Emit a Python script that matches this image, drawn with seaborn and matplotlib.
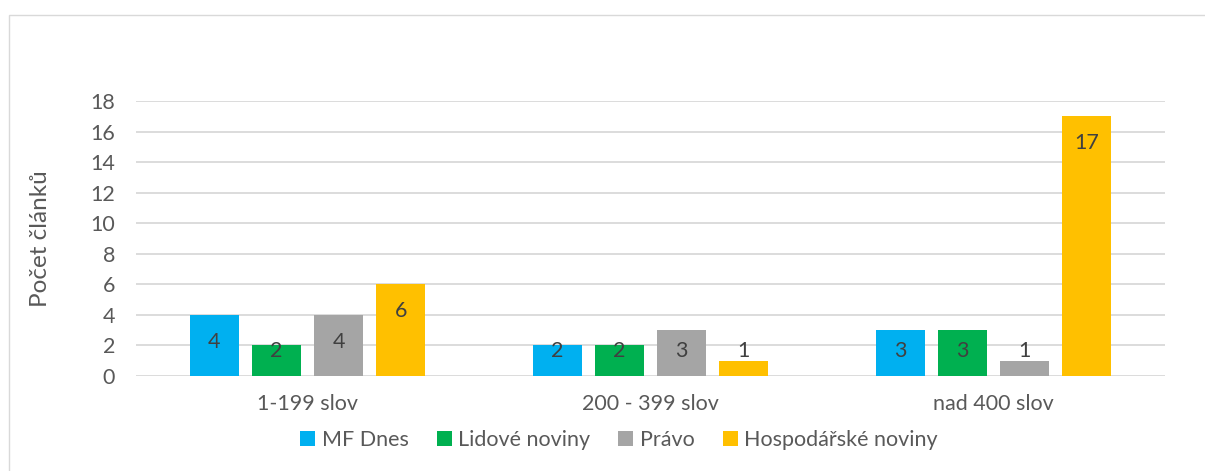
import pandas as pd
import matplotlib.pyplot as plt
import seaborn as sns
from matplotlib.patches import Rectangle, Patch

# Data
kategorie = ["1-199 slov", "200 - 399 slov", "nad 400 slov"]
noviny = ["MF Dnes", "Lidové noviny", "Právo", "Hospodářské noviny"]
mf_dnes = [4, 2, 3]
lidove_noviny = [2, 2, 3]
pravo = [4, 3, 1]
hospodarske_noviny = [6, 1, 17]
barvy = ["#00B0F0", "#00B050", "#A5A5A5", "#FFC000"]
yticks = [0, 2, 4, 6, 8, 10, 12, 14, 16, 18]

rows = []
for name, vals in zip(noviny, [mf_dnes, lidove_noviny, pravo, hospodarske_noviny]):
    for k, v in zip(kategorie, vals):
        rows.append({"kategorie": k, "noviny": name, "pocet": v})
df = pd.DataFrame(rows)

# Style
sns.set_style("white")
plt.rcParams["font.family"] = ["Lato", "DejaVu Sans"]
txt = "#595959"

fig = plt.figure(figsize=(12.05, 4.71), dpi=100)
ax = fig.add_axes([136 / 1205, 1 - 376 / 471, (1165 - 136) / 1205, 275 / 471])

sns.barplot(
    data=df, x="kategorie", y="pocet", hue="noviny",
    order=kategorie, hue_order=noviny, palette=barvy,
    width=0.725, gap=0.21, saturation=1, errorbar=None, legend=False,
    linewidth=0, ax=ax
)

ax.set_ylim(0, 18)
ax.set_xlim(-0.5, 2.5)
ax.set_yticks(yticks)
ax.yaxis.grid(True, color="#D9D9D9", linewidth=1.3)
ax.set_axisbelow(True)
sns.despine(ax=ax, left=True, right=True, top=True, bottom=True)
ax.tick_params(axis="both", length=0, labelsize=15.5, colors=txt)
ax.tick_params(axis="y", pad=15)
ax.tick_params(axis="x", pad=13)
ax.set_xlabel("")
ax.set_ylabel("Počet článků", fontsize=17.5, color=txt, labelpad=28)

# value labels
for bar in ax.patches:
    v = bar.get_height()
    if v <= 0:
        continue
    ax.text(bar.get_x() + bar.get_width() / 2, max(v - 1.75, 1.65), f"{int(v)}",
            ha="center", va="center", fontsize=15.5, color="#404040")

# legend
handles = [Patch(facecolor=c, edgecolor="none", label=n) for c, n in zip(barvy, noviny)]
fig.legend(handles=handles, loc="center", bbox_to_anchor=(619 / 1205, 1 - 440 / 471),
           ncol=4, frameon=False, fontsize=15.5, labelcolor=txt,
           handlelength=0.7, handleheight=0.7, handletextpad=0.3, columnspacing=1.3)

# chart frame
fig.add_artist(Rectangle((9 / 1205, -0.1), 1.2, 1.1 - 15 / 471, transform=fig.transFigure,
                         fill=False, edgecolor="#D9D9D9", linewidth=1))

fig.savefig("out.png", dpi=100)
